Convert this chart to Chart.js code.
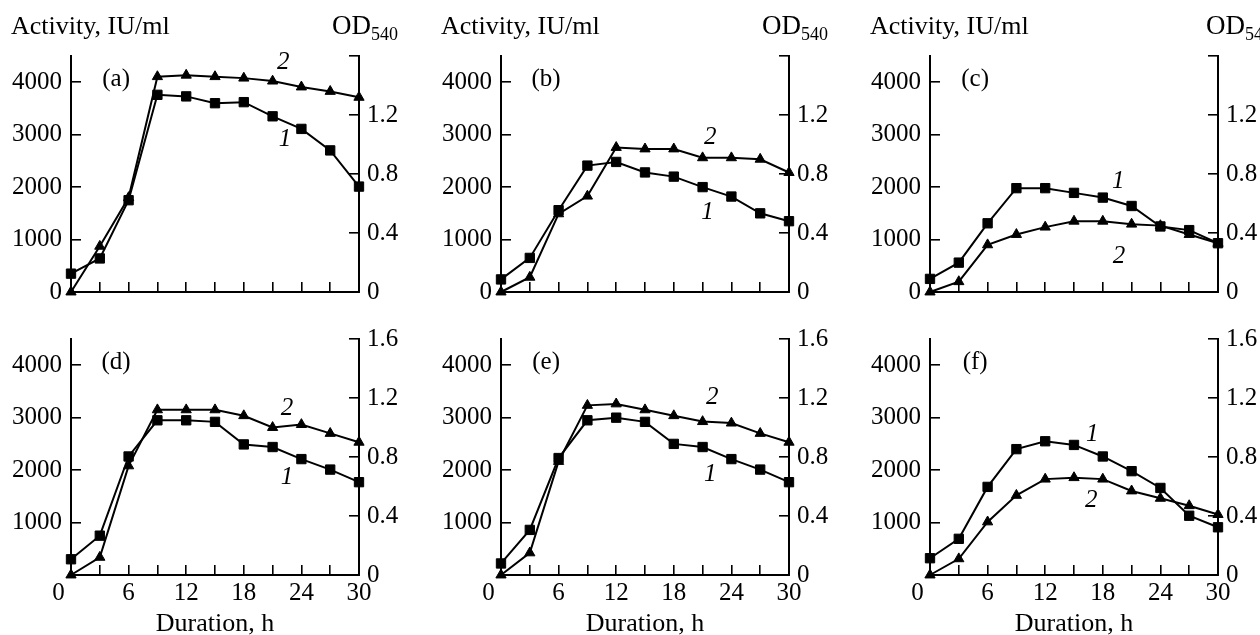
<!DOCTYPE html>
<html><head><meta charset="utf-8">
<script src="https://cdn.jsdelivr.net/npm/chart.js@4.4.0/dist/chart.umd.min.js"></script>
<style>
html,body{margin:0;padding:0;background:#fff;overflow:hidden;width:1260px;height:635px;position:relative;}
canvas{position:absolute;}
</style></head><body>
<canvas id="ca" width="420" height="310" style="left:0px;top:0px"></canvas>
<canvas id="cb" width="420" height="310" style="left:430px;top:0px"></canvas>
<canvas id="cc" width="401" height="310" style="left:859px;top:0px"></canvas>
<canvas id="cd" width="420" height="330" style="left:0px;top:310px"></canvas>
<canvas id="ce" width="420" height="330" style="left:430px;top:310px"></canvas>
<canvas id="cf" width="401" height="330" style="left:859px;top:310px"></canvas>
<script>
// ---- data ----
const hours = [0, 3, 6, 9, 12, 15, 18, 21, 24, 27, 30];

const activityA = [350, 640, 1750, 3760, 3730, 3600, 3620, 3350, 3110, 2700, 2010];
const odA       = [0, 0.31, 0.64, 1.46, 1.47, 1.46, 1.45, 1.43, 1.39, 1.36, 1.32];
const activityB = [240, 650, 1560, 2410, 2480, 2280, 2200, 2000, 1820, 1500, 1350];
const odB       = [0, 0.10, 0.53, 0.65, 0.98, 0.97, 0.97, 0.91, 0.91, 0.90, 0.81];
const activityC = [250, 560, 1310, 1980, 1980, 1890, 1800, 1640, 1250, 1180, 930];
const odC       = [0, 0.07, 0.32, 0.39, 0.44, 0.48, 0.48, 0.46, 0.45, 0.39, 0.33];
const activityD = [300, 750, 2260, 2950, 2950, 2920, 2490, 2440, 2210, 2010, 1770];
const odD       = [0, 0.12, 0.74, 1.12, 1.12, 1.12, 1.08, 1.00, 1.02, 0.96, 0.90];
const activityE = [220, 860, 2230, 2950, 3000, 2920, 2500, 2440, 2210, 2010, 1770];
const odE       = [0, 0.15, 0.77, 1.15, 1.16, 1.12, 1.08, 1.04, 1.03, 0.96, 0.90];
const activityF = [320, 690, 1680, 2400, 2550, 2480, 2260, 1980, 1660, 1130, 910];
const odF       = [0, 0.11, 0.36, 0.54, 0.65, 0.66, 0.65, 0.57, 0.52, 0.47, 0.41];

const activityTickLabels = [0, 1000, 2000, 3000, 4000];
const odTickLabelsTop = [0, 0.4, 0.8, 1.2];
const odTickLabelsBottom = [0, 0.4, 0.8, 1.2, 1.6];
const hourTickLabels = [0, 6, 12, 18, 24, 30];

// ---- panel setup (annotation anchors in data units) ----
const panels = [
  {id:'ca', letter:'(a)', act:activityA, od:odA, bottom:false, rightW:61, odDx:27, lab1:[22.3, 2900], lab2:[22.1, 4370]},
  {id:'cb', letter:'(b)', act:activityB, od:odB, bottom:false, rightW:61, odDx:27, lab1:[21.5, 1510], lab2:[21.8, 2940]},
  {id:'cc', letter:'(c)', act:activityC, od:odC, bottom:false, rightW:42, odDx:12, lab1:[19.6, 2100], lab2:[19.7, 670]},
  {id:'cd', letter:'(d)', act:activityD, od:odD, bottom:true,  rightW:61, lab1:[22.5, 1870], lab2:[22.5, 3180]},
  {id:'ce', letter:'(e)', act:activityE, od:odE, bottom:true,  rightW:61, lab1:[21.8, 1910], lab2:[22.0, 3390]},
  {id:'cf', letter:'(f)', act:activityF, od:odF, bottom:true,  rightW:42, lab1:[16.9, 2690], lab2:[16.8, 1430]}
];

const FONT = '"Liberation Serif", "Times New Roman", serif';
Chart.defaults.font.family = FONT;
Chart.defaults.color = '#000';

function textPlugin(p) {
  return {
    id: 'panelText',
    afterDatasetsDraw(chart) {
      const {ctx, chartArea, scales} = chart;
      const xs = scales.x, ys = scales.y;
      ctx.save();
      ctx.fillStyle = '#000';
      ctx.textAlign = 'center';
      ctx.textBaseline = 'middle';
      ctx.font = '25px ' + FONT;
      ctx.fillText(p.letter, xs.getPixelForValue(4.7), ys.getPixelForValue(4050));
      ctx.font = 'italic 25px ' + FONT;
      ctx.fillText('1', xs.getPixelForValue(p.lab1[0]), ys.getPixelForValue(p.lab1[1]));
      ctx.fillText('2', xs.getPixelForValue(p.lab2[0]), ys.getPixelForValue(p.lab2[1]));
      if (!p.bottom) {
        ctx.textAlign = 'left';
        ctx.textBaseline = 'alphabetic';
        ctx.font = '26px ' + FONT;
        ctx.fillText('Activity, IU/ml', chartArea.left - 60, 34);
        const ox = chartArea.right - p.odDx;
        ctx.font = '27px ' + FONT;
        ctx.fillText('OD', ox, 34);
        const w = ctx.measureText('OD').width;
        ctx.font = '18px ' + FONT;
        ctx.fillText('540', ox + w, 40);
      }
      ctx.restore();
    }
  };
}

function near(list, v) { return list.some(t => Math.abs(t - v) < 1e-6); }

function zeroPad(s) { s.paddingTop = 0; s.paddingBottom = 0; s.paddingLeft = 0; s.paddingRight = 0; }

function makeChart(p) {
  const bottom = p.bottom;
  const gridOpts = {drawOnChartArea:false, drawTicks:true, tickLength:-10, color:'#000', lineWidth:1.6};
  const borderOpts = {display:true, color:'#000', width:2};
  const common = {borderColor:'#000', backgroundColor:'#000', pointBackgroundColor:'#000', pointBorderColor:'#000',
                  borderWidth:2, pointBorderWidth:1, tension:0, fill:false, clip:false};
  new Chart(document.getElementById(p.id), {
    type: 'line',
    data: {
      datasets: [
        Object.assign({label:'1', data: hours.map((h, i) => ({x:h, y:p.act[i]})), yAxisID:'y',
                       pointStyle:'rect', pointRadius:6.6}, common),
        Object.assign({label:'2', data: hours.map((h, i) => ({x:h, y:p.od[i]})), yAxisID:'y1',
                       pointStyle:'triangle', pointRadius:5.9}, common)
      ]
    },
    options: {
      responsive:false, animation:false, devicePixelRatio:1,
      layout:{padding:{top: bottom ? 29 : 56, left:0, right:0, bottom:0}},
      plugins:{legend:{display:false}, tooltip:{enabled:false}},
      events: [],
      scales: {
        x: {
          type:'linear', position:'bottom', min:0, max:30,
          afterFit: s => { s.height = bottom ? 65 : 18; zeroPad(s); },
          ticks:{stepSize:3, autoSkip:false, maxRotation:0, padding:13, font:{size:25}, color:'#000',
                 callback: v => (bottom && hourTickLabels.includes(v)) ? (v === 0 ? '0    ' : String(v)) : ''},
          grid: gridOpts, border: borderOpts,
          title:{display:bottom, text:'Duration, h', font:{size:26}, color:'#000', padding:{top:0, bottom:0}}
        },
        y: {
          type:'linear', position:'left', min:0, max:4500,
          afterFit: s => { s.width = 71; zeroPad(s); },
          ticks:{stepSize:500, padding:19, font:{size:25}, color:'#000',
                 callback: v => (activityTickLabels.includes(v) && !(bottom && v === 0)) ? String(v) : ''},
          grid: gridOpts, border: borderOpts
        },
        y1: {
          type:'linear', position:'right', min:0, max:1.6,
          afterFit: s => { s.width = p.rightW; zeroPad(s); },
          ticks:{stepSize:0.2, padding:18, font:{size:25}, color:'#000',
                 callback: v => {
                   const r = Math.round(v * 10) / 10;
                   return near(bottom ? odTickLabelsBottom : odTickLabelsTop, r) ? (r === 0 ? '0' : r.toFixed(1)) : '';
                 }},
          grid: gridOpts, border: borderOpts
        }
      }
    },
    plugins: [textPlugin(p)]
  });
}

panels.forEach(makeChart);
</script>
</body></html>
